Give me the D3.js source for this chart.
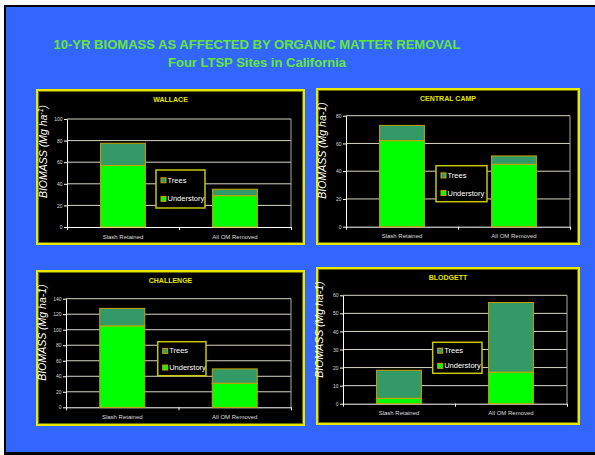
<!DOCTYPE html>
<html>
<head>
<meta charset="utf-8">
<script src="https://cdn.jsdelivr.net/npm/d3@7"></script>
<style>
  body { margin: 0; background: #fff; }
  svg { display: block; font-family: "Liberation Sans", Arial, sans-serif; }
</style>
</head>
<body>
<svg id="chart" width="595" height="455"></svg>
<script>
// Data
var sites = ["WALLACE", "CENTRAL CAMP", "CHALLENGE", "BLODGETT"];
var treatments = ["Slash Retained", "All OM Removed"];
var series = ["Trees", "Understory"];
var understory = [[57, 29], [62, 45], [105, 31], [3, 17.5]];
var trees = [[20.5, 6], [11, 6], [22.5, 18.5], [15.5, 38.5]];
var yMax = [100, 80, 140, 60];
var yStep = [20, 20, 20, 10];
var superscriptUnit = [true, false, false, false];
var mainTitle = "10-YR BIOMASS AS AFFECTED BY ORGANIC MATTER REMOVAL";
var subTitle = "Four LTSP Sites in California";

// Layout (frame box, plot box, legend box) for each panel
var layout = [
  { frame: [37, 90, 304, 244], plot: [67, 119, 291, 227], legend: [156, 170, 205, 208] },
  { frame: [317, 89, 579, 244], plot: [346, 115.7, 570, 226.7], legend: [436, 165.7, 487, 201.7] },
  { frame: [37, 271, 304, 425], plot: [66, 298.7, 291, 407.3], legend: [157.7, 341.7, 206, 375.7] },
  { frame: [317, 268, 579, 424], plot: [343, 295.3, 567, 403.7], legend: [432.7, 342.3, 482, 373.3] }
];

var colors = { Trees: "#339966", Understory: "#00ff00" };

var svg = d3.select("#chart");

// slide background
svg.append("rect").attr("x", 4).attr("y", 5).attr("width", 591).attr("height", 450).attr("fill", "#000");
svg.append("rect").attr("x", 6).attr("y", 7).attr("width", 589).attr("height", 445).attr("fill", "#3366ff");

svg.append("text")
  .attr("x", 257).attr("y", 49)
  .attr("text-anchor", "middle")
  .attr("textLength", 407).attr("lengthAdjust", "spacingAndGlyphs")
  .style("font-size", "13.5px").style("font-weight", "bold")
  .attr("fill", "#66e633")
  .text(mainTitle);

svg.append("text")
  .attr("x", 257).attr("y", 66.5)
  .attr("text-anchor", "middle")
  .attr("textLength", 178).attr("lengthAdjust", "spacingAndGlyphs")
  .style("font-size", "13.5px").style("font-weight", "bold")
  .attr("fill", "#66e633")
  .text(subTitle);

sites.forEach(function(site, i) {
  var L = layout[i];
  var f = L.frame, p = L.plot, lg = L.legend;
  var g = svg.append("g").attr("class", "panel");

  g.append("rect")
    .attr("x", f[0]).attr("y", f[1])
    .attr("width", f[2] - f[0]).attr("height", f[3] - f[1])
    .attr("fill", "#000").attr("stroke", "#e8e800").attr("stroke-width", 2);
  g.append("rect")
    .attr("x", f[0] + 1.5).attr("y", f[1] + 1.5)
    .attr("width", f[2] - f[0] - 3).attr("height", f[3] - f[1] - 3)
    .attr("fill", "none").attr("stroke", "#6b6b00").attr("stroke-width", 1);

  g.append("text")
    .attr("x", (f[0] + f[2]) / 2).attr("y", f[1] + 12)
    .attr("text-anchor", "middle")
    .style("font-size", "7px").style("font-weight", "bold")
    .attr("fill", "#e6e600")
    .text(site);

  var x = d3.scaleBand().domain(treatments).range([p[0], p[2]])
    .paddingInner(0.6).paddingOuter(0.3);
  var y = d3.scaleLinear().domain([0, yMax[i]]).range([p[3], p[1]]);
  var ticks = d3.range(0, yMax[i] + 0.001, yStep[i]);

  // gridlines
  g.selectAll(".grid").data(ticks.slice(1)).enter().append("line")
    .attr("x1", p[0]).attr("x2", p[2])
    .attr("y1", function(d) { return y(d); })
    .attr("y2", function(d) { return y(d); })
    .attr("stroke", "#d9d6c4").attr("stroke-width", 1);
  g.append("line")
    .attr("x1", p[2]).attr("x2", p[2]).attr("y1", p[1]).attr("y2", p[3])
    .attr("stroke", "#b0aa98").attr("stroke-width", 1);

  // y axis
  var yAxis = g.append("g")
    .attr("transform", "translate(" + p[0] + ",0)")
    .call(d3.axisLeft(y).tickValues(ticks).tickSize(3).tickPadding(1.5).tickSizeOuter(0));
  yAxis.select(".domain").attr("stroke", "#fff");
  yAxis.selectAll(".tick line").attr("stroke", "#fff");
  yAxis.selectAll(".tick text").attr("fill", "#ddd").style("font-size", "5px").style("font-family", "Liberation Sans, Arial, sans-serif");

  // x axis: tick marks at category boundaries, labels at centres
  var xEdges = d3.scaleLinear().domain([0, treatments.length]).range([p[0], p[2]]);
  var xAxis = g.append("g")
    .attr("transform", "translate(0," + p[3] + ")")
    .call(d3.axisBottom(xEdges).tickValues(d3.range(0, treatments.length + 1)).tickSize(3).tickSizeOuter(0).tickFormat(""));
  xAxis.select(".domain").attr("stroke", "#fff");
  xAxis.selectAll(".tick line").attr("stroke", "#fff");

  g.selectAll(".xlab").data(treatments).enter().append("text")
    .attr("x", function(d) { return x(d) + x.bandwidth() / 2; })
    .attr("y", p[3] + 11.5)
    .attr("text-anchor", "middle")
    .style("font-size", "6px")
    .attr("fill", "#ddd")
    .text(function(d) { return d; });

  // stacked bars
  var rows = treatments.map(function(t, j) {
    return { treatment: t, Understory: understory[i][j], Trees: trees[i][j] };
  });
  var stack = d3.stack().keys(["Understory", "Trees"])(rows);
  stack.forEach(function(layer) {
    g.selectAll(".bar-" + layer.key).data(layer).enter().append("rect")
      .attr("x", function(d) { return x(d.data.treatment); })
      .attr("width", x.bandwidth())
      .attr("y", function(d) { return y(d[1]); })
      .attr("height", function(d) { return y(d[0]) - y(d[1]); })
      .attr("fill", colors[layer.key])
      .attr("stroke", "#c8a400").attr("stroke-width", 1);
  });

  // y title
  var yt = g.append("text")
    .attr("transform", "translate(" + (p[0] - 20.5) + "," + (f[1] + 61.5) + ") rotate(-90)")
    .attr("text-anchor", "middle")
    .style("font-size", "10.5px").style("font-style", "italic")
    .attr("fill", "#fff");
  if (superscriptUnit[i]) {
    yt.append("tspan").text("BIOMASS (Mg ha");
    yt.append("tspan").attr("dy", -4).style("font-size", "7px").text("-1");
    yt.append("tspan").attr("dy", 4).text(")");
  } else {
    yt.text("BIOMASS (Mg ha-1)");
  }

  // legend
  g.append("rect")
    .attr("x", lg[0]).attr("y", lg[1])
    .attr("width", lg[2] - lg[0]).attr("height", lg[3] - lg[1])
    .attr("fill", "#000").attr("stroke", "#c8c800").attr("stroke-width", 1.5);
  var rowY = d3.scalePoint().domain(series).range([lg[1] + (lg[3] - lg[1]) * 0.27, lg[1] + (lg[3] - lg[1]) * 0.76]);
  series.forEach(function(s) {
    g.append("rect")
      .attr("x", lg[0] + 5).attr("y", rowY(s) - 2.5)
      .attr("width", 5).attr("height", 5)
      .attr("fill", colors[s]).attr("stroke", "#c8a400").attr("stroke-width", 1);
    g.append("text")
      .attr("x", lg[0] + 11.5).attr("y", rowY(s) + 2.6)
      .style("font-size", "7.5px")
      .attr("fill", "#fff")
      .text(s);
  });
});
</script>
</body>
</html>
